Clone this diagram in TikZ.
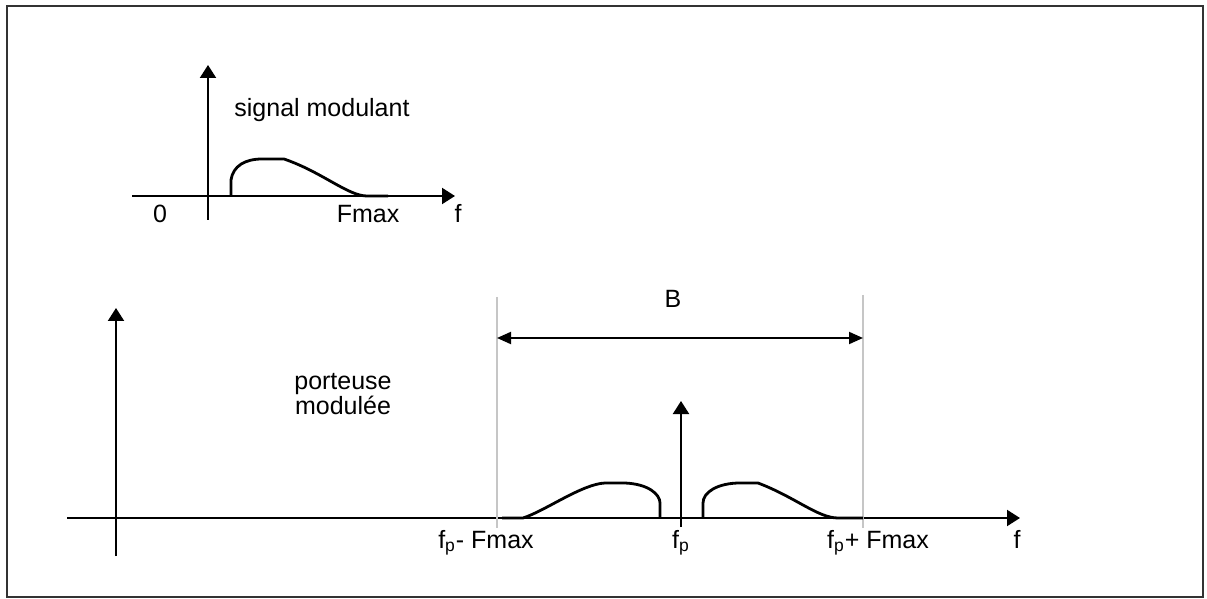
\documentclass[tikz,border=0pt]{standalone}
\usepackage{fontspec}
\setmainfont{Liberation Sans}
\usetikzlibrary{arrows.meta}

\begin{document}
\begin{tikzpicture}[
    x=0.5pt, y=-0.5pt,
    font=\fontsize{12.5}{11.5}\selectfont,
    axis/.style={-{Triangle[length=6.5pt,width=8pt]}, line width=1pt},
    bande/.style={{Triangle[length=7pt,width=6pt]}-{Triangle[length=7pt,width=6pt]}, line width=1pt},
    spectre/.style={line width=1.4pt, line join=round},
    guide/.style={gray!45, line width=0.7pt},
    lbl/.style={inner sep=0pt, anchor=base}
]
\useasboundingbox (0,0) rectangle (1207,599);
\draw[line width=1.3pt, black!80] (7,6) rectangle (1203,597);

% Signal modulant
\coordinate (h1) at (132,196);
\coordinate (h2) at (455,196);
\coordinate (v1) at (208,220);
\coordinate (v2) at (208,65);
\draw[axis] (h1) -- (h2);
\draw[axis] (v1) -- (v2);
\draw[spectre] (231,196) -- (231,180) .. controls (233,166) and (245,159) .. (262,159)
    -- (284,159) .. controls (322,172) and (348,196) .. (367,196) -- (388,196);

\node[inner sep=0pt] (sig) at (322,110) {signal modulant};
\node[lbl] (zero) at (160,223) {0};
\node[lbl] (fmax) at (368,223) {Fmax};
\node[lbl] (f1) at (458,223) {f};

% Porteuse modulee
\coordinate (H1) at (67,518);
\coordinate (H2) at (1020,518);
\coordinate (V1) at (116,556);
\coordinate (V2) at (116,308);
\coordinate (C1) at (681,527);
\coordinate (C2) at (681,401);
\draw[axis] (H1) -- (H2);
\draw[axis] (V1) -- (V2);
\draw[axis] (C1) -- (C2);

\coordinate (gL1) at (497,297);
\coordinate (gL2) at (497,528);
\coordinate (gR1) at (863,295);
\coordinate (gR2) at (863,528);
\draw[guide] (gL1) -- (gL2);
\draw[guide] (gR1) -- (gR2);

\draw[spectre] (502,518) -- (523,518) .. controls (545,511) and (582,484) .. (605,483)
    -- (625,483) .. controls (648,484) and (660,494) .. (660,503) -- (660,518);
\draw[spectre] (703,518) -- (703,503) .. controls (703,492) and (718,483) .. (740,483)
    -- (758,483) .. controls (795,497) and (818,518) .. (838,518) -- (863,518);

\coordinate (bL) at (497,338);
\coordinate (bR) at (863,338);
\draw[bande] (bL) -- (bR);
\node[inner sep=0pt] (bw) at (673,299) {B};

\node[inner sep=0pt, align=center] (port) at (343,394) {porteuse\\modulée};
\node[lbl] (fpm) at (486,548) {f\textsubscript{p}- Fmax};
\node[lbl] (fp) at (681,548) {f\textsubscript{p}};
\node[lbl] (fpp) at (878,548) {f\textsubscript{p}+ Fmax};
\node[lbl] (f2) at (1017,548) {f};
\end{tikzpicture}
\end{document}
